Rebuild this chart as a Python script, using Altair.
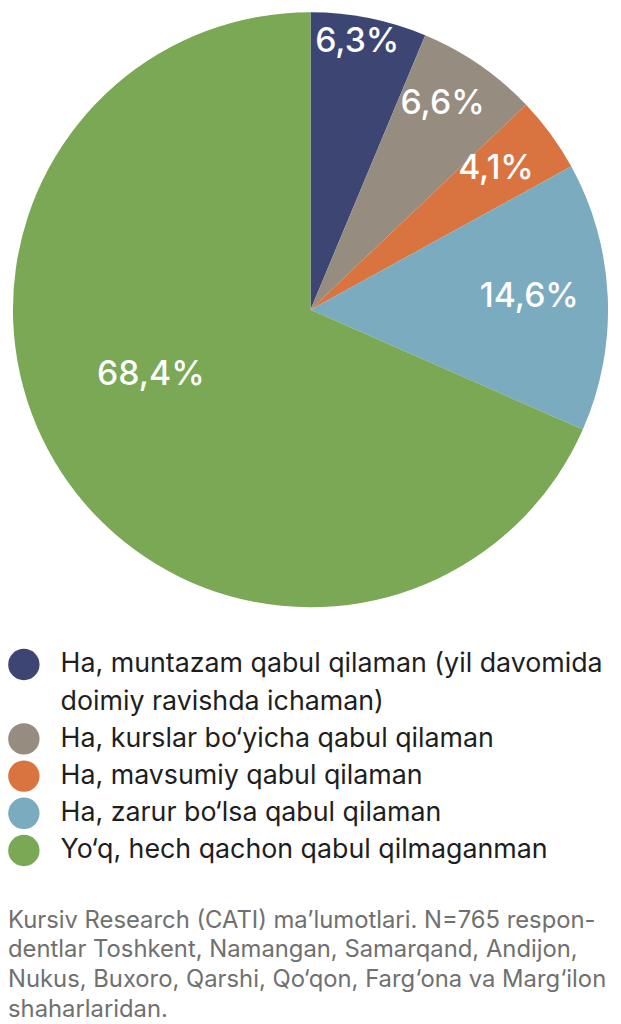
import textwrap
import altair as alt
import pandas as pd

categories = [
    "Ha, muntazam qabul qilaman (yil davomida doimiy ravishda ichaman)",
    "Ha, kurslar bo‘yicha qabul qilaman",
    "Ha, mavsumiy qabul qilaman",
    "Ha, zarur bo‘lsa qabul qilaman",
    "Yo‘q, hech qachon qabul qilmaganman",
]
values = [6.3, 6.6, 4.1, 14.6, 68.4]
colors = ["#3d4673", "#968c80", "#d9733f", "#7aabbf", "#7aa854"]
source_lines = [
    "Kursiv Research (CATI) ma’lumotlari. N=765 respon-",
    "dentlar Toshkent, Namangan, Samarqand, Andijon,",
    "Nukus, Buxoro, Qarshi, Qo‘qon, Farg‘ona va Marg‘ilon",
    "shaharlaridan.",
]

pie_df = pd.DataFrame({
    "category": categories,
    "value": values,
    "order": list(range(len(categories))),
})

# legend rows: one per wrapped text line
rows = []
line = 0
for i, c in enumerate(categories):
    parts = textwrap.wrap(c, width=40)
    for j, p in enumerate(parts):
        rows.append({"category": c, "text": p, "line": line, "first": j == 0})
        line += 1
legend_df = pd.DataFrame(rows)

color_scale = alt.Scale(domain=categories, range=colors)

arcs = alt.Chart(pie_df).mark_arc(outerRadius=300).encode(
    theta=alt.Theta("value:Q", stack=True),
    order=alt.Order("order:Q"),
    color=alt.Color("category:N", scale=color_scale, legend=None),
)
labels = alt.Chart(pie_df).transform_window(
    cum="sum(value)", sort=[alt.SortField("order")], frame=[None, 0]
).transform_calculate(
    mid="datum.cum - datum.value / 2 + [-0.4, -0.5, -0.3, -0.2, 3.0][datum.order]",
    label="replace(format(datum.value, '.1f'), '.', ',') + '%'",
    lr="[274, 246, 235, 221, 174][datum.order]",
).mark_text(
    font="Inter", fontSize=34, fontWeight=500, color="white"
).encode(
    theta=alt.Theta("mid:Q", stack=False),
    radius=alt.Radius("lr:Q", scale=None),
    text="label:N",
)
pie = (arcs + labels).properties(width=610, height=600)

leg_base = alt.Chart(legend_df).encode(
    y=alt.Y("line:Q", axis=None,
            scale=alt.Scale(domain=[-0.5, 5.5], reverse=True, nice=False, zero=False))
)
dots = leg_base.transform_filter("datum.first").mark_circle(size=1000, opacity=1).encode(
    x=alt.value(16),
    color=alt.Color("category:N", scale=color_scale, legend=None),
)
texts = leg_base.mark_text(
    align="left", baseline="middle", font="Inter", fontSize=27, color="#1e1e1e"
).encode(
    x=alt.value(53),
    text="text:N",
)
legend = (dots + texts).properties(width=610, height=225)

chart = alt.vconcat(pie, legend, spacing=39).properties(
    padding=0,
    title=alt.TitleParams(
        source_lines, orient="bottom", anchor="start", fontSize=24,
        fontWeight="normal", font="Inter", color="#707070", lineHeight=30, offset=40,
    ),
).configure_view(stroke=None)

chart.save("out.html", embed_options={"renderer": "svg", "actions": False})
